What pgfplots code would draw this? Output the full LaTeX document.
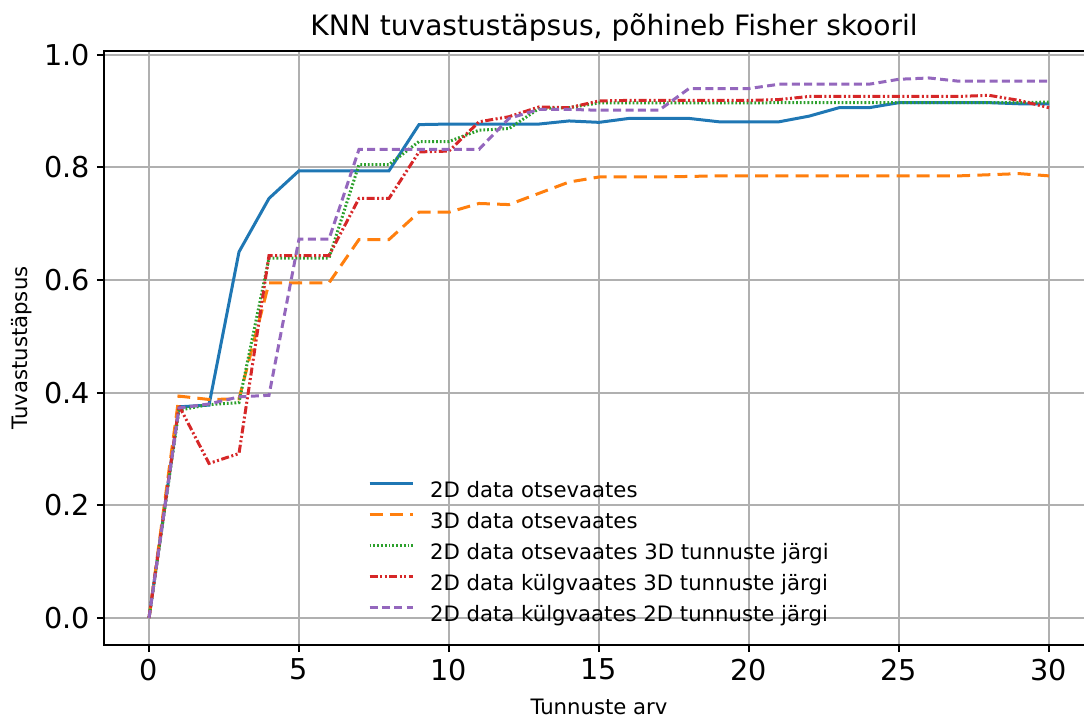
\documentclass[border=0pt]{standalone}
\usepackage{pgfplots}
\pgfplotsset{compat=1.18}
\usepackage{fontspec}
\setmainfont{DejaVu Sans}
\definecolor{cblue}{HTML}{1F77B4}
\definecolor{corange}{HTML}{FF7F0E}
\definecolor{cgreen}{HTML}{2CA02C}
\definecolor{cred}{HTML}{D62728}
\definecolor{cpurple}{HTML}{9467BD}
\definecolor{cgrid}{HTML}{B0B0B0}
\begin{document}
\begin{tikzpicture}
\begin{axis}[
  scale only axis, width=495bp, height=297bp,
  xmin=-1.5, xmax=31.5, ymin=-0.0479, ymax=1.0067,
  xtick={0,5,10,15,20,25,30}, ytick={0,0.2,0.4,0.6,0.8,1.0},
  yticklabel style={/pgf/number format/.cd, fixed, fixed zerofill, precision=1},
  xticklabel style={/pgf/number format/.cd, fixed, precision=0},
  /pgf/number format/assume math mode=true,
  tick label style={font=\fontsize{14.4}{16}\selectfont},
  tick align=outside, major tick length=3.5bp,
  xtick pos=lower, ytick pos=left,
  tick style={black, line width=1bp},
  axis line style={black, line width=1.1bp},
  grid=major, major grid style={color=cgrid, line width=1bp},
  title={KNN tuvastustäpsus, põhineb Fisher skooril},
  every axis title/.style={font=\fontsize{14.1}{16}\selectfont, at={(axis description cs:0.5152,1.0269)}, anchor=base},
  xlabel={Tunnuste arv},
  every axis x label/.style={font=\fontsize{10.65}{12}\selectfont, at={(axis description cs:0.5,-0.117)}, anchor=base},
  ylabel={Tuvastustäpsus},
  every axis y label/.style={font=\fontsize{10.65}{12}\selectfont, at={(axis description cs:-0.0775,0.5)}, rotate=90, anchor=base},
  every axis plot/.append style={line width=1.5bp},
  legend image code/.code={\draw[#1] (0bp,3.9bp) -- (21.5bp,3.9bp);},
  legend style={draw=none, fill=none, inner sep=0pt, outer sep=0pt,
    at={(axis description cs:0.2667,0.2754)}, anchor=north west,
    font=\fontsize{10.65}{12}\selectfont, row sep=5.2bp, column sep=8bp,
    cells={anchor=west}, nodes={inner sep=0pt, text height=7.8bp, text depth=2.5bp}},
]
\addplot[cblue, solid] coordinates {(0,0)(1,0.375)(2,0.378)(3,0.650)(4,0.745)(5,0.794)(6,0.794)(7,0.794)(8,0.794)(9,0.876)(10,0.877)(11,0.877)(12,0.877)(13,0.877)(14,0.8825)(15,0.880)(16,0.887)(17,0.887)(18,0.887)(19,0.881)(20,0.881)(21,0.881)(22,0.891)(23,0.906)(24,0.906)(25,0.915)(26,0.915)(27,0.915)(28,0.915)(29,0.913)(30,0.913)};
\addlegendentry{2D data otsevaates}
\addplot[corange, dash pattern=on 6.5bp off 3.6bp] coordinates {(0,0)(1,0.394)(2,0.388)(3,0.389)(4,0.595)(5,0.595)(6,0.595)(7,0.672)(8,0.672)(9,0.7205)(10,0.7205)(11,0.736)(12,0.734)(13,0.754)(14,0.774)(15,0.783)(16,0.783)(17,0.783)(18,0.784)(19,0.785)(20,0.785)(21,0.785)(22,0.785)(23,0.785)(24,0.785)(25,0.785)(26,0.785)(27,0.785)(28,0.787)(29,0.789)(30,0.785)};
\addlegendentry{3D data otsevaates}
\addplot[cgreen, dash pattern=on 0.9bp off 1bp] coordinates {(0,0)(1,0.369)(2,0.379)(3,0.3825)(4,0.639)(5,0.639)(6,0.639)(7,0.805)(8,0.805)(9,0.846)(10,0.846)(11,0.866)(12,0.869)(13,0.9045)(14,0.906)(15,0.9145)(16,0.9145)(17,0.9145)(18,0.9145)(19,0.9145)(20,0.9145)(21,0.915)(22,0.915)(23,0.915)(24,0.915)(25,0.915)(26,0.915)(27,0.915)(28,0.915)(29,0.915)(30,0.916)};
\addlegendentry{2D data otsevaates 3D tunnuste järgi}
\addplot[cred, dash pattern=on 4bp off 1.25bp on 1bp off 1.25bp on 1bp off 1.25bp] coordinates {(0,0)(1,0.377)(2,0.2745)(3,0.292)(4,0.6436)(5,0.6436)(6,0.6436)(7,0.745)(8,0.745)(9,0.8275)(10,0.829)(11,0.881)(12,0.890)(13,0.9074)(14,0.906)(15,0.918)(16,0.919)(17,0.919)(18,0.919)(19,0.919)(20,0.919)(21,0.9205)(22,0.926)(23,0.926)(24,0.926)(25,0.926)(26,0.926)(27,0.926)(28,0.928)(29,0.919)(30,0.906)};
\addlegendentry{2D data külgvaates 3D tunnuste järgi}
\addplot[cpurple, dash pattern=on 4bp off 2.2bp] coordinates {(0,0)(1,0.373)(2,0.380)(3,0.3927)(4,0.3954)(5,0.6726)(6,0.6726)(7,0.832)(8,0.832)(9,0.832)(10,0.832)(11,0.832)(12,0.887)(13,0.903)(14,0.903)(15,0.9015)(16,0.9015)(17,0.9015)(18,0.940)(19,0.940)(20,0.940)(21,0.9477)(22,0.9477)(23,0.9477)(24,0.9477)(25,0.9565)(26,0.9588)(27,0.953)(28,0.953)(29,0.953)(30,0.953)};
\addlegendentry{2D data külgvaates 2D tunnuste järgi}
\end{axis}
\pgfresetboundingbox
\path[use as bounding box] (-52bp,-37.5bp) rectangle (490bp,322.5bp);
\end{tikzpicture}
\end{document}
